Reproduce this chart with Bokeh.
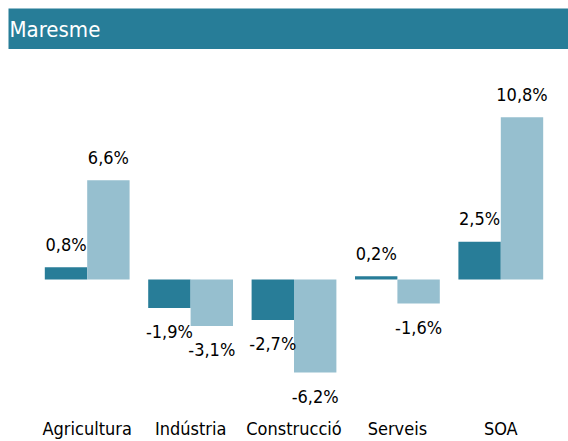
from bokeh.plotting import figure
from bokeh.models import ColumnDataSource, FactorRange, Range1d, Label
from bokeh.transform import dodge
from bokeh.layouts import column
from bokeh.embed import file_html
from bokeh.resources import INLINE
from bokeh.core.properties import value

region = "Maresme"
sectors = ["Agricultura", "Indústria", "Construcció", "Serveis", "SOA"]
series_a = [0.8, -1.9, -2.7, 0.2, 2.5]
series_b = [6.6, -3.1, -6.2, -1.6, 10.8]

DARK = "#287d98"
LIGHT = "#96bfcf"
BANNER = "#277d98"
FONT = "DejaVu Sans Condensed"


def fmt(v):
    return f"{v:.1f}%".replace(".", ",")


def offs(v):
    return -23 if v >= 0 else 24


src = ColumnDataSource(dict(
    x=sectors,
    a=series_a,
    b=series_b,
    la=[fmt(v) for v in series_a],
    lb=[fmt(v) for v in series_b],
    oa=[offs(v) for v in series_a],
    ob=[offs(v) for v in series_b],
))

# banner (frame = teal band)
banner = figure(width=568, height=49, x_range=Range1d(0, 560), y_range=Range1d(0, 41),
                toolbar_location=None, output_backend="svg",
                x_axis_location=None, y_axis_location=None,
                min_border_left=8, min_border_top=8, min_border_right=0, min_border_bottom=0,
                background_fill_color=BANNER, border_fill_color="white",
                outline_line_color=None, frame_align=False)
banner.grid.visible = False
banner.add_layout(Label(x=1, y=20, text=region,
                        text_color="white", text_font=FONT, text_font_size="22px",
                        text_baseline="alphabetic"))

p = figure(width=568, height=392,
           x_range=FactorRange(factors=sectors, range_padding=0),
           y_range=Range1d(-8.665, 14.575),
           toolbar_location=None, output_backend="svg",
           min_border_left=35, min_border_right=16, min_border_top=11, min_border_bottom=31,
           outline_line_color=None, y_axis_location=None, frame_align=False)
p.grid.visible = False

W = 0.41
p.vbar(x=dodge("x", -0.205, range=p.x_range), top="a", bottom=0, width=W,
       source=src, fill_color=DARK, line_color=None)
p.vbar(x=dodge("x", 0.205, range=p.x_range), top="b", bottom=0, width=W,
       source=src, fill_color=LIGHT, line_color=None)

common = dict(source=src, text_align="center", text_baseline="alphabetic",
              text_font=value(FONT), text_font_size="18px", text_color="black")
p.text(x=dodge("x", -0.205, range=p.x_range), y="a", text="la", y_offset="oa", **common)
p.text(x=dodge("x", 0.205, range=p.x_range), y="b", text="lb", y_offset="ob", **common)

ax = p.xaxis[0]
ax.axis_line_color = None
ax.major_tick_line_color = None
ax.minor_tick_line_color = None
ax.major_label_text_font = FONT
ax.major_label_text_font_size = "18px"
ax.major_label_text_color = "black"
ax.major_label_standoff = 2

layout = column(banner, p, spacing=0)
open("out.html", "w").write(file_html(layout, INLINE))
